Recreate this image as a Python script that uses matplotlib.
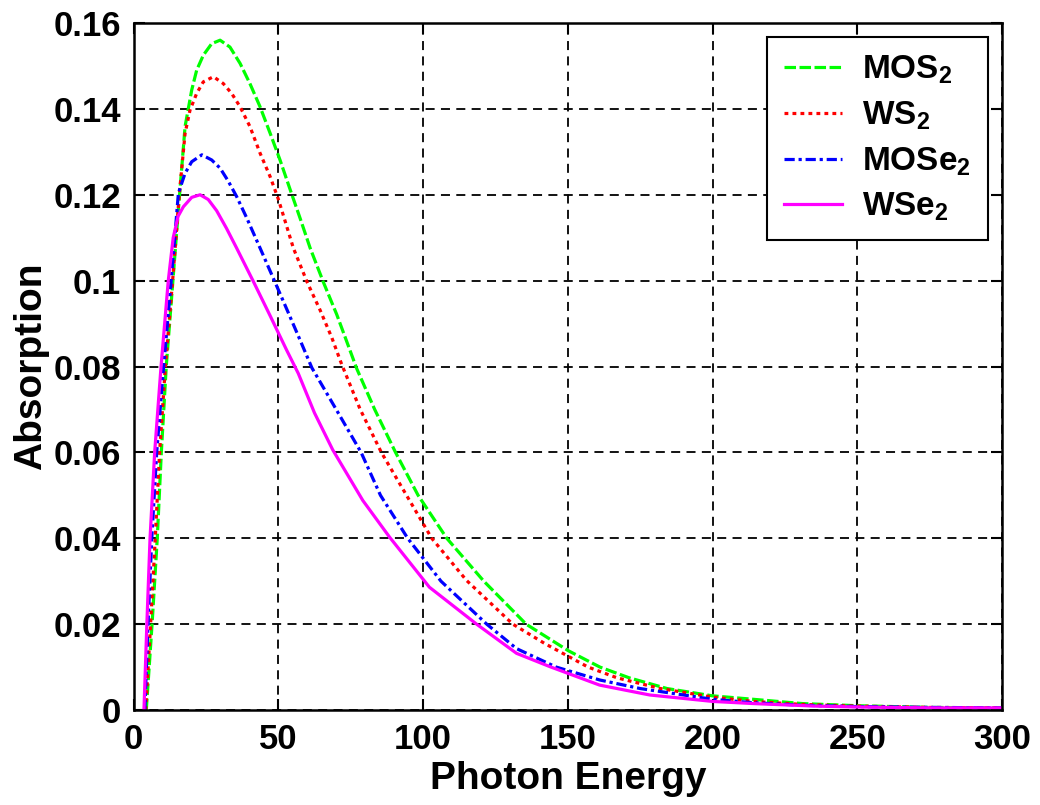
import matplotlib
matplotlib.use("Agg")
import matplotlib.pyplot as plt

plt.rcParams['font.family'] = ['Liberation Sans', 'DejaVu Sans']
plt.rcParams['font.weight'] = 'bold'
plt.rcParams['mathtext.fontset'] = 'custom'
plt.rcParams['mathtext.rm'] = 'Liberation Sans:bold'
plt.rcParams['mathtext.bf'] = 'Liberation Sans:bold'
plt.rcParams['mathtext.default'] = 'rm'

# absorption curves per material (photon energy, absorption)
mos2_x = [4.4, 6.4, 8.2, 9.6, 11.3, 13.6, 15.9, 17.8, 20.1, 21.8, 24.1, 27.0, 29.9, 33.3,
          36.8, 40.2, 43.7, 47.2, 50.6, 54.1, 57.5, 61.0, 65.6, 70.2, 73.6, 77.1, 83.3,
          90.5, 98.3, 108.2, 121.0, 135.6, 150.2, 161.1, 171.2, 184.3, 200.0, 214.0,
          231.0, 250.0, 275.0, 300.0]
mos2_y = [0.0, 0.02, 0.04, 0.06, 0.08, 0.10, 0.12, 0.1359, 0.1444, 0.149, 0.1525, 0.1552, 0.156, 0.1544,
          0.1506, 0.1459, 0.1405, 0.1343, 0.1281, 0.1212, 0.1146, 0.1076, 0.0996, 0.0921, 0.0859, 0.0795, 0.07,
          0.06, 0.05, 0.04, 0.03, 0.02, 0.0138, 0.01, 0.0075, 0.005, 0.0033, 0.0025,
          0.0015, 0.001, 0.0006, 0.0005]

ws2_x = [4.2, 5.9, 7.5, 9.0, 11.0, 13.5, 15.8, 17.8, 19.5, 21.8, 24.1, 27.6, 31.0, 33.9,
         36.8, 40.2, 43.7, 47.2, 50.0, 51.7, 55.2, 60.0, 64.4, 68.5, 71.9, 78.3, 85.6,
         94.3, 103.0, 115.0, 131.0, 142.0, 157.0, 167.0, 182.0, 200.0, 214.0, 231.0,
         250.0, 275.0, 300.0]
ws2_y = [0.0, 0.02, 0.04, 0.06, 0.08, 0.10, 0.12, 0.1343, 0.1397, 0.1436, 0.1463, 0.1475, 0.1459, 0.1436,
         0.1405, 0.1359, 0.1297, 0.1242, 0.119, 0.1153, 0.1076, 0.0996, 0.0932, 0.0867, 0.0805, 0.07, 0.06,
         0.05, 0.04, 0.0302, 0.02, 0.0155, 0.01, 0.0075, 0.005, 0.003, 0.002, 0.0013,
         0.0009, 0.0006, 0.0005]

mose2_x = [3.9, 5.0, 6.3, 8.0, 10.4, 13.0, 15.5, 17.8, 20.1, 23.6, 27.0, 29.9, 32.7, 35.6,
           39.1, 43.7, 48.9, 52.9, 57.5, 61.6, 70.0, 78.6, 85.3, 94.7, 106.2, 122.0,
           132.3, 146.0, 161.0, 175.0, 200.0, 214.0, 231.0, 250.0, 275.0, 300.0]
mose2_y = [0.0, 0.02, 0.04, 0.06, 0.08, 0.10, 0.1204, 0.125, 0.1277, 0.1293, 0.1281, 0.1262, 0.1232, 0.1196,
           0.1146, 0.1076, 0.0996, 0.0934, 0.0862, 0.0797, 0.07, 0.06, 0.05, 0.04, 0.03, 0.02,
           0.0143, 0.01, 0.007, 0.005, 0.0025, 0.0017, 0.0011, 0.0008, 0.0006, 0.0005]

wse2_x = [3.6, 4.6, 5.7, 7.3, 9.5, 12.0, 13.7, 15.4, 17.2, 20.1, 23.0, 25.8, 28.7, 32.1,
          35.6, 41.4, 47.2, 52.9, 56.9, 62.5, 68.8, 79.2, 88.4, 102.2, 118.5, 132.3, 143.8,
          161.0, 178.3, 200.0, 214.0, 236.0, 250.0, 275.0, 300.0]
wse2_y = [0.0, 0.02, 0.04, 0.06, 0.08, 0.10, 0.11, 0.115, 0.1172, 0.1194, 0.12, 0.1189, 0.1163, 0.1122,
          0.1076, 0.0998, 0.0918, 0.0838, 0.0784, 0.0692, 0.0606, 0.0488, 0.0403, 0.0286, 0.02, 0.0132, 0.0101,
          0.0058, 0.0035, 0.002, 0.0015, 0.0009, 0.0007, 0.0005, 0.0005]

x_ticks = [0, 50, 100, 150, 200, 250, 300]
y_ticks = [0, 0.02, 0.04, 0.06, 0.08, 0.10, 0.12, 0.14, 0.16]
y_tick_labels = ['0', '0.02', '0.04', '0.06', '0.08', '0.1', '0.12', '0.14', '0.16']

fig = plt.figure(figsize=(10.4, 8.05), dpi=100)
ax = fig.add_axes([0.1284, 0.118, 0.8351, 0.8534])

lw = 2.3
ax.plot(mos2_x, mos2_y, color=(0, 1, 0), lw=lw, dashes=(3.6, 1.1), label='MOS$_2$')
ax.plot(ws2_x, ws2_y, color=(1, 0, 0), lw=lw, dashes=(1.2, 1.3), label='WS$_2$')
ax.plot(mose2_x, mose2_y, color=(0, 0, 1), lw=lw, dashes=(3.2, 1.2, 1.0, 1.2), label='MOSe$_2$')
ax.plot(wse2_x, wse2_y, color=(1, 0, 1), lw=lw, label='WSe$_2$')

ax.set_xlim(0, 300)
ax.set_ylim(0, 0.16)
ax.set_xticks(x_ticks)
ax.set_xticklabels([str(t) for t in x_ticks])
ax.set_yticks(y_ticks)
ax.set_yticklabels(y_tick_labels)

ax.grid(True, color='black', linestyle=(0, (5, 3.5)), linewidth=1.3)
ax.tick_params(direction='in', length=8, width=1.5, top=True, right=True,
               labelsize=25, pad=9)
for sp in ax.spines.values():
    sp.set_linewidth(1.8)

ax.set_xlabel('Photon Energy', fontsize=28, fontweight='bold', labelpad=4)
ax.set_ylabel('Absorption', fontsize=28, fontweight='bold', labelpad=3)

leg = ax.legend(loc='upper right', bbox_to_anchor=(0.9839, 0.9796), borderaxespad=0,
                fontsize=24, handlelength=1.75, handletextpad=0.6, labelspacing=0.4,
                borderpad=0.5, fancybox=False, framealpha=1)
leg.get_frame().set_edgecolor('black')
leg.get_frame().set_linewidth(1.5)

fig.savefig('out.png', dpi=100)
